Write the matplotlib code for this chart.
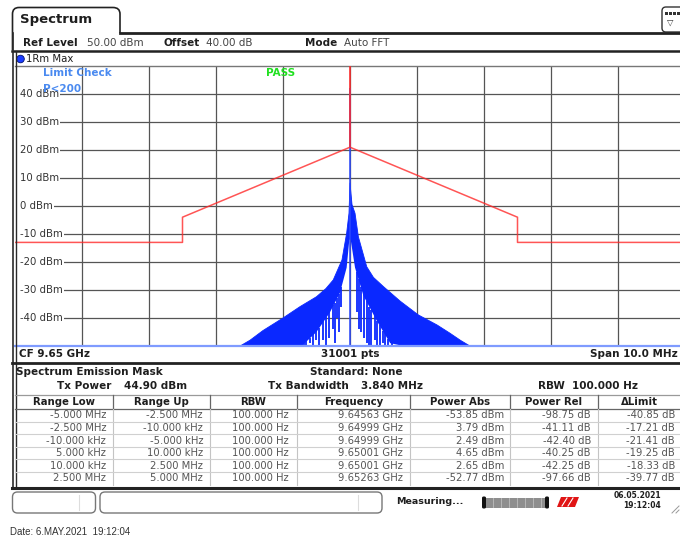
import matplotlib
matplotlib.use("Agg")
import numpy as np
import matplotlib.pyplot as plt
from matplotlib.lines import Line2D
from matplotlib.patches import FancyBboxPatch, Rectangle, Circle, PathPatch, Polygon
from matplotlib.path import Path
from matplotlib.transforms import Affine2D

# --- datos ---
span_mhz = [-5.0, 5.0]
level_range = [-50, 50]
grid_freqs = [-4, -3, -2, -1, 0, 1, 2, 3, 4]
level_ticks = [40, 30, 20, 10, 0, -10, -20, -30, -40]

# linea limite (mascara)
limit_freq = [-5.0, -2.5, -2.5, 0.0, 0.0, 0.0, 2.5, 2.5, 5.0]
limit_dbm = [-13, -13, -4, 21, 50, 21, -4, -13, -13]

# envolvente superior de la traza 1Rm Max
upper_freq = [-1.64, -1.49, -1.30, -1.00, -0.75, -0.50, -0.36, -0.25, -0.12, -0.05,
              -0.015, 0.0, 0.03, 0.075, 0.125, 0.25, 0.35, 0.50, 0.75, 1.02,
              1.30, 1.49, 1.65, 1.79]
upper_dbm = [-50, -47.9, -44.5, -40.0, -36.0, -32.4, -29.5, -26.4, -19.3, -9.7,
             -2.6, 8.2, 0.5, -2.6, -11.0, -21.7, -25.5, -28.8, -34.0, -38.9,
             -42.5, -45.4, -48.0, -50]

# borde inferior de la zona llena (hueco blanco bajo la portadora)
lower_freq = [-1.64, -0.72, -0.50, -0.30, -0.15, -0.05, -0.01,
              0.01, 0.075, 0.20, 0.40, 0.60, 0.80, 1.79]
lower_dbm = [-50, -50, -45, -38, -31, -22, -12,
             -12, -22, -32, -41, -49, -50, -50]

# "dedos" de la traza que bajan dentro del hueco
finger_freq = [-0.68, -0.65, -0.60, -0.55, -0.51, -0.47, -0.40, -0.36, -0.32, -0.26,
               -0.23, -0.20, -0.17, -0.13,
               0.10, 0.13, 0.17, 0.21, 0.25, 0.29, 0.32, 0.37, 0.41, 0.45,
               0.49, 0.52, 0.57, 0.62]
finger_top = [-49, -48, -47, -45.5, -44.5, -43.5, -41, -39.5, -38, -35.5,
              -34.5, -33, -31.5, -29,
              -23.5, -26, -29, -31.5, -34, -36, -37, -39, -41, -42.5,
              -44.5, -45.5, -47.5, -48.5]
finger_bottom = [-50, -50, -49, -50, -48, -50, -48, -50, -47, -44,
                 -49, -40, -45, -36,
                 -38, -44, -45, -47, -49, -50, -50, -48, -50, -50,
                 -49, -50, -50, -50]

peak_freq = 0.0
peak_dbm = 42.0
floor_dbm = -50

# tabla de la mascara
range_low = ["-5.000 MHz", "-2.500 MHz", "-10.000 kHz", "5.000 kHz", "10.000 kHz", "2.500 MHz"]
range_up = ["-2.500 MHz", "-10.000 kHz", "-5.000 kHz", "10.000 kHz", "2.500 MHz", "5.000 MHz"]
rbw_hz = [100.0, 100.0, 100.0, 100.0, 100.0, 100.0]
freq_ghz = [9.64563, 9.64999, 9.64999, 9.65001, 9.65001, 9.65263]
power_abs = [-53.85, 3.79, 2.49, 4.65, 2.65, -52.77]
power_rel = [-98.75, -41.11, -42.40, -40.25, -42.25, -97.66]
delta_limit = [-40.85, -17.21, -21.41, -19.25, -18.33, -39.77]
headers = ["Range Low", "Range Up", "RBW", "Frequency", "Power Abs", "Power Rel", "\u0394Limit"]

W, H = 680, 540
plt.rcParams["font.family"] = "DejaVu Sans"
fig = plt.figure(figsize=(W / 100, H / 100), dpi=100)
fig.patch.set_facecolor("white")

# transformacion en pixeles (origen arriba a la izquierda)
pix = Affine2D().scale(1 / W, -1 / H).translate(0, 1) + fig.transFigure

OSCURO = "#1e1e1e"


def texto(x, y, s, **kw):
    kw.setdefault("va", "center")
    kw.setdefault("color", OSCURO)
    kw.setdefault("fontsize", 7.5)
    return fig.text(x, y, s, transform=pix, **kw)


def linea(x0, y0, x1, y1, **kw):
    fig.add_artist(Line2D([x0, x1], [y0, y1], transform=pix, **kw))


# pestaña "Spectrum"
verts = [(12.5, 50), (12.5, 14), (12.5, 7.5), (19, 7.5), (113, 7.5), (120, 7.5),
         (120, 14), (120, 33)]
codes = [Path.MOVETO, Path.LINETO, Path.CURVE3, Path.CURVE3, Path.LINETO,
         Path.CURVE3, Path.CURVE3, Path.LINETO]
fig.add_artist(PathPatch(Path(verts, codes), fill=False, ec="#222", lw=1.2, transform=pix))
texto(20, 20, "Spectrum", fontsize=9.5, fontweight="bold")
linea(120, 33, 680, 33, color="#222", lw=2)

# icono de la derecha
fig.add_artist(FancyBboxPatch((662, 7), 26, 25, boxstyle="round,pad=0,rounding_size=4",
                              ec="#333", fc="white", lw=1, transform=pix))
for xi in (665, 669, 673, 677):
    fig.add_artist(Rectangle((xi, 12), 3, 3, fc="#333", ec="none", transform=pix))
texto(670, 22, "\u25BD", fontsize=6, color="#333", ha="center")

# fila de ajustes
texto(23, 43, "Ref Level", fontweight="bold")
texto(87, 43, "50.00 dBm", color="#444")
texto(163, 43, "Offset", fontweight="bold")
texto(206, 43, "40.00 dB", color="#444")
texto(305, 43, "Mode", fontweight="bold")
texto(344, 43, "Auto FFT", color="#444")
linea(12, 50.5, 680, 50.5, color="#222", lw=1.8)

# traza 1Rm Max
fig.add_artist(Circle((20.5, 59), 3.8, fc="#1a3cff", ec="#001070", lw=0.6, transform=pix))
texto(26, 59, "1Rm Max", fontsize=7.3)

# bordes izquierdos
linea(12.5, 33, 12.5, 488, color="#2a2a2a", lw=1.2)
linea(15.5, 51, 15.5, 488, color="#2a2a2a", lw=1.0)

# --- area del espectro ---
ax = fig.add_axes([15 / W, 1 - 346 / H, 670 / W, 280 / H])
ax.set_xlim(span_mhz)
ax.set_ylim(level_range)
ax.set_xticks(grid_freqs)
ax.set_yticks(level_ticks)
ax.tick_params(length=0, labelbottom=False, labelleft=False)
ax.grid(True, color="#555555", lw=0.9)
ax.set_axisbelow(True)
for lado in ("left", "right", "bottom"):
    ax.spines[lado].set_visible(False)
ax.spines["top"].set_color("#777777")
ax.spines["top"].set_linewidth(1)

for v in level_ticks:
    ax.add_patch(Rectangle((span_mhz[0], v - 1.5), 0.09, 3.0, fc="white", ec="none", zorder=2))
    ax.text(-4.93, v, f"{v} dBm", fontsize=7.3, color="#333", va="center", ha="left",
            bbox=dict(fc="white", ec="none", pad=0.8), zorder=2)

azul = "#0a28ff"
poly_f = np.concatenate([upper_freq, lower_freq[::-1]])
poly_d = np.concatenate([upper_dbm, lower_dbm[::-1]])
ax.fill(poly_f, poly_d, color=azul, lw=0, zorder=3)
ax.plot(upper_freq, upper_dbm, color=azul, lw=0.6, zorder=3)
ax.vlines(finger_freq, finger_bottom, finger_top, color=azul, lw=1.3, zorder=3)
ax.vlines(peak_freq, floor_dbm, peak_dbm, color="#2a48ff", lw=1.1, zorder=4)
ax.plot(span_mhz, [floor_dbm, floor_dbm], color="#7f9bff", lw=1.6, zorder=4, clip_on=False)

ax.plot(limit_freq, limit_dbm, color="#ff2a2a", lw=1.1, alpha=0.8, zorder=5)

texto(43, 73, "Limit Check", color="#4a8af0", fontweight="bold", fontsize=7.5)
texto(43, 89, "P<200", color="#4a8af0", fontweight="bold", fontsize=7.5)
texto(266, 73, "PASS", color="#20e020", fontweight="bold", fontsize=7.5)

# fila inferior del diagrama
texto(19, 354, "CF 9.65 GHz", fontweight="bold")
texto(350, 354, "31001 pts", fontweight="bold", ha="center")
texto(678, 354, "Span 10.0 MHz", fontweight="bold", ha="right")
linea(12, 362.5, 680, 362.5, color="#222", lw=2)

# resumen de la medicion
texto(16, 372, "Spectrum Emission Mask", fontweight="bold")
texto(310, 372, "Standard: None", fontweight="bold")
texto(57, 386, "Tx Power", fontweight="bold")
texto(124, 386, "44.90 dBm", fontweight="bold")
texto(268, 386, "Tx Bandwidth", fontweight="bold")
texto(361, 386, "3.840 MHz", fontweight="bold")
texto(538, 386, "RBW", fontweight="bold")
texto(572, 386, "100.000 Hz", fontweight="bold")

# tabla
col_edges = [15, 113, 210, 297, 410, 510, 598, 680]
col_right = [106, 203, 289, 403, 504, 591, 675]
header_top, header_bot = 394.5, 409
row_h = 12.6
n_rows = len(range_low)

linea(15, header_top, 680, header_top, color="#9a9a9a", lw=0.9)
linea(15, header_bot, 680, header_bot, color="#666", lw=0.9)
for i, h in enumerate(headers):
    cx = (col_edges[i] + col_edges[i + 1]) / 2
    texto(cx, 402, h, fontweight="bold", ha="center", fontsize=7.3)
for xe in col_edges[1:-1]:
    linea(xe, header_top, xe, header_bot, color="#666", lw=0.9)
    linea(xe, header_bot, xe, header_bot + row_h * n_rows, color="#c4c4c4", lw=0.8)

filas = []
for i in range(n_rows):
    filas.append([range_low[i], range_up[i], f"{rbw_hz[i]:.3f} Hz", f"{freq_ghz[i]:.5f} GHz",
                  f"{power_abs[i]:.2f} dBm", f"{power_rel[i]:.2f} dB", f"{delta_limit[i]:.2f} dB"])
for r, fila in enumerate(filas):
    yc = header_bot + row_h * (r + 0.5)
    for c, s in enumerate(fila):
        texto(col_right[c], yc, s, ha="right", color="#555", fontsize=7.2)
    if r < n_rows - 1:
        linea(15, header_bot + row_h * (r + 1), 680, header_bot + row_h * (r + 1),
              color="#d0d0d0", lw=0.8)
linea(12, 487.5, 680, 487.5, color="#222", lw=2.2)

# barra de estado
for x0, w in ((12.5, 83), (100, 282)):
    fig.add_artist(FancyBboxPatch((x0, 492), w, 21, boxstyle="round,pad=0,rounding_size=5",
                                  ec="#777", fc="white", lw=1, transform=pix))
linea(79, 495, 79, 510, color="#dddddd", lw=0.8)
linea(358, 495, 358, 510, color="#dddddd", lw=0.8)
texto(396, 502, "Measuring...", fontweight="bold", fontsize=6.8)
fig.add_artist(Rectangle((485, 497.5), 60, 10, fc="#8e8e8e", ec="none", transform=pix))
for xs in range(493, 545, 8):
    linea(xs, 498, xs, 507, color="#bdbdbd", lw=0.6)
for xc in (482, 545):
    fig.add_artist(FancyBboxPatch((xc, 496.5), 4, 12, boxstyle="round,pad=0,rounding_size=1.5",
                                  fc="#111", ec="none", transform=pix))
fig.add_artist(Polygon([(557, 507), (561, 497), (579, 497), (575, 507)], closed=True,
                       fc="#e01515", ec="none", transform=pix))
linea(562, 506, 567, 498, color="white", lw=0.8)
linea(568, 506, 573, 498, color="white", lw=0.8)
texto(661, 496, "06.05.2021", fontweight="bold", fontsize=5.5, ha="right")
texto(661, 506, "19:12:04", fontweight="bold", fontsize=5.5, ha="right")
linea(672, 513, 679, 506, color="#999", lw=0.7)
linea(676, 513, 679, 510, color="#999", lw=0.7)

texto(10, 532, "Date: 6.MAY.2021  19:12:04", fontsize=7, family="Liberation Sans", color="#333")

fig.savefig("out.png", dpi=100)
